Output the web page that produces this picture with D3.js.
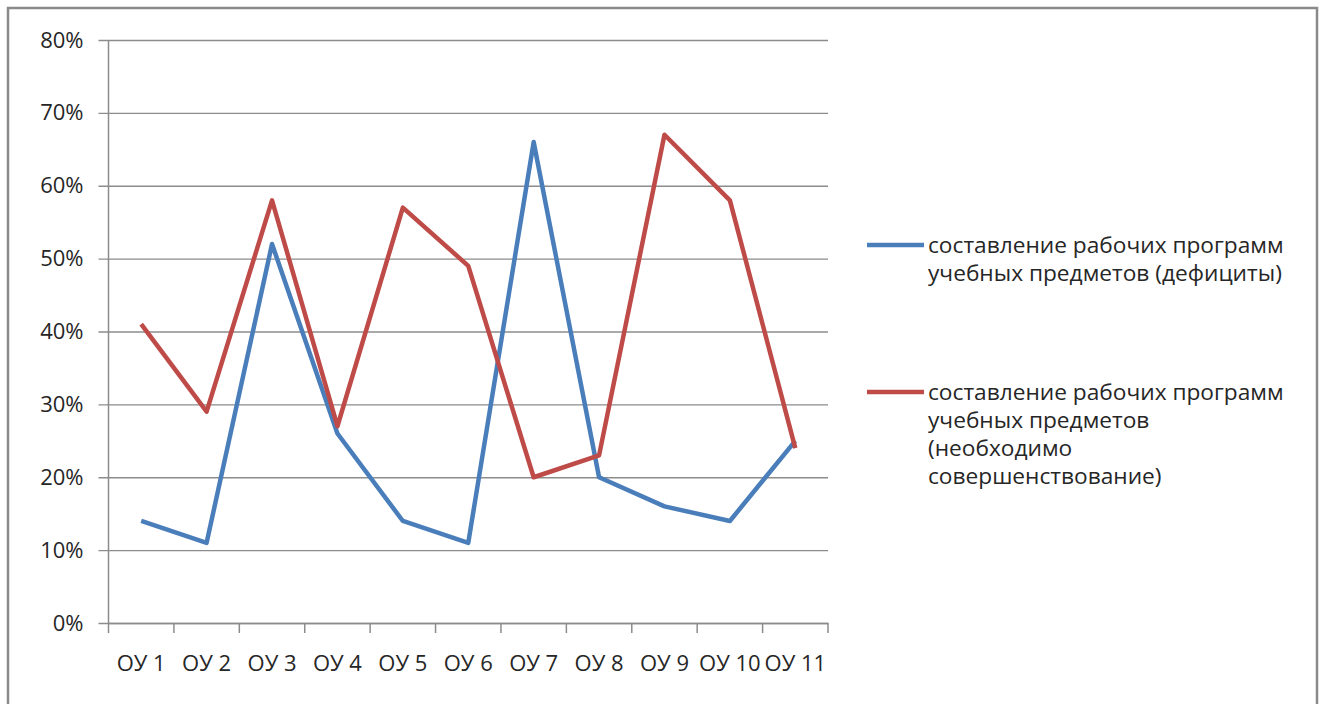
<!DOCTYPE html>
<html>
  <head>
    <meta charset="UTF-8" />
    <script src="https://d3js.org/d3.v7.min.js"></script>
    <style>
      body { margin: 0; background: #fff; }
      text { font-family: "Open Sans", sans-serif; fill: #262626; }
    </style>
  </head>
  <body>
    <svg width="1324" height="704"></svg>

    <script>
      const categories = ["ОУ 1", "ОУ 2", "ОУ 3", "ОУ 4", "ОУ 5", "ОУ 6", "ОУ 7", "ОУ 8", "ОУ 9", "ОУ 10", "ОУ 11"];
      const deficits = [0.14, 0.11, 0.52, 0.26, 0.14, 0.11, 0.66, 0.20, 0.16, 0.14, 0.25];
      const improvement = [0.41, 0.29, 0.58, 0.27, 0.57, 0.49, 0.20, 0.23, 0.67, 0.58, 0.24];
      const yTicks = [0, 0.1, 0.2, 0.3, 0.4, 0.5, 0.6, 0.7, 0.8];
      const legendBlue = ["составление рабочих программ", "учебных предметов (дефициты)"];
      const legendRed = ["составление рабочих программ", "учебных предметов", "(необходимо", "совершенствование)"];

      const svg = d3.select("svg");

      // outer frame (bottom edge runs off the picture)
      svg.append("rect")
        .attr("x", 8).attr("y", 8)
        .attr("width", 1309).attr("height", 720)
        .attr("fill", "none")
        .attr("stroke", "#8a8a8a")
        .attr("stroke-width", 2.5);

      const plotLeft = 108.5, plotRight = 828, plotTop = 40, plotBottom = 623;

      const x = d3.scaleBand().domain(categories).range([plotLeft, plotRight]);
      const y = d3.scaleLinear().domain([0, 0.8]).range([plotBottom, plotTop]);

      // gridlines + y labels (axis sits on the right end, ticks run left)
      const yAxis = d3.axisLeft(y)
        .tickValues(yTicks)
        .tickFormat(d3.format(".0%"))
        .tickSize(plotRight - plotLeft + 10)
        .tickPadding(15);
      const gy = svg.append("g")
        .attr("transform", "translate(" + plotRight + ",0)")
        .call(yAxis);
      gy.select(".domain").remove();
      gy.selectAll(".tick line").attr("stroke", "#8c8c8c").attr("stroke-width", 1.3);
      gy.selectAll(".tick text")
        .attr("font-size", 22)
        .attr("font-family", "Open Sans")
        .attr("fill", "#262626");

      // vertical axis line
      svg.append("line")
        .attr("x1", plotLeft).attr("x2", plotLeft)
        .attr("y1", plotTop).attr("y2", plotBottom)
        .attr("stroke", "#8c8c8c").attr("stroke-width", 1.5);

      // x axis with labels at band centres
      const xAxis = d3.axisBottom(x).tickSize(0).tickPadding(32);
      const gx = svg.append("g")
        .attr("transform", "translate(0," + plotBottom + ")")
        .call(xAxis);
      gx.select(".domain").attr("stroke", "#8c8c8c").attr("stroke-width", 1.5);
      gx.selectAll(".tick text")
        .attr("font-size", 22)
        .attr("font-family", "Open Sans")
        .attr("fill", "#262626");

      // tick marks on band boundaries
      const edges = categories.map(d => x(d)).concat([x.range()[1]]);
      svg.append("g").selectAll("line")
        .data(edges)
        .join("line")
        .attr("x1", d => d).attr("x2", d => d)
        .attr("y1", plotBottom).attr("y2", plotBottom + 10)
        .attr("stroke", "#8c8c8c").attr("stroke-width", 1.5);

      const line = d3.line()
        .x((d, i) => x(categories[i]) + x.bandwidth() / 2)
        .y(d => y(d));

      svg.append("path")
        .datum(deficits)
        .attr("d", line)
        .attr("fill", "none")
        .attr("stroke", "#4a7ebb")
        .attr("stroke-width", 4.5)
        .attr("stroke-linejoin", "round");

      svg.append("path")
        .datum(improvement)
        .attr("d", line)
        .attr("fill", "none")
        .attr("stroke", "#be4b48")
        .attr("stroke-width", 4.5)
        .attr("stroke-linejoin", "round");

      // legend
      function legendItem(lines, color, cy) {
        const g = svg.append("g");
        g.append("line")
          .attr("x1", 867).attr("x2", 924)
          .attr("y1", cy).attr("y2", cy)
          .attr("stroke", color).attr("stroke-width", 4.5);
        g.selectAll("text")
          .data(lines)
          .join("text")
          .attr("x", 928)
          .attr("y", (d, i) => cy + 7.5 + i * 28)
          .attr("font-size", 22.7)
          .text(d => d);
      }
      legendItem(legendBlue, "#4a7ebb", 245);
      legendItem(legendRed, "#be4b48", 392);
    </script>
  </body>
</html>
